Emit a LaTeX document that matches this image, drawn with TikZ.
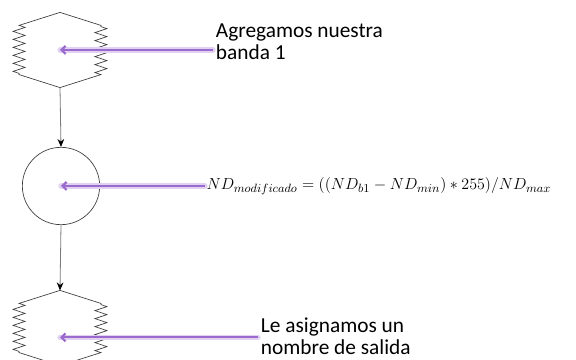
\documentclass[tikz,border=0pt]{standalone}
\usepackage{amsmath}
\usepackage{fontspec}
\setmainfont{Carlito}
\usepackage{tikz}
\usetikzlibrary{arrows.meta,positioning,calc,decorations.pathmorphing}
\definecolor{violeta}{HTML}{9A6ACF}
\definecolor{gristrazo}{HTML}{3C3C3C}
\definecolor{grislinea}{HTML}{7A7A7A}

% outline of a band symbol around a node
\newcommand{\contorno}[1]{%
  \draw[forma] (#1.north) -- ($(#1.north west)+(0,13)$)
    decorate[decoration={zigzag,segment length=6pt,amplitude=4.5pt}] {-- ($(#1.south west)+(0,-13)$)}
    -- (#1.south) -- ($(#1.south east)+(0,-13)$)
    decorate[decoration={zigzag,segment length=6pt,amplitude=4.5pt}] {-- ($(#1.north east)+(0,13)$)}
    -- cycle;}

\begin{document}
\begin{tikzpicture}[x=0.75pt, y=-0.75pt,
    banda/.style={rectangle, draw=none, minimum width=61pt, minimum height=56pt, inner sep=0pt},
    proceso/.style={circle, draw=gristrazo, line width=0.5pt, minimum size=58pt, inner sep=0pt},
    forma/.style={draw=gristrazo, line width=0.5pt},
    nota/.style={font=\fontsize{16}{16.5}\selectfont, align=left, anchor=west, inner sep=2pt},
    enlace/.style={-{Stealth[length=6pt,width=5pt,black]}, grislinea, line width=0.6pt},
    flecha/.style={-{Straight Barb[length=3pt,width=6pt]}, violeta, line width=1.6pt},
    halo/.style={violeta!30, line width=4pt, line cap=round}
]
\useasboundingbox (0,0) rectangle (576,360);

\node[banda] (entrada) at (60,50) {};
\node[proceso] (calculo) at (61,186) {};
\node[banda] (salida) at (60,328) {};
\contorno{entrada}
\contorno{salida}

\draw[enlace] (entrada.south) -- (calculo.north);
\draw[enlace] (calculo.south) -- (salida.north);

\node[nota] (agrega) at (213,42) {Agregamos nuestra\\banda 1};
\node[nota] (asigna) at (258,336) {Le asignamos un\\nombre de salida};
\node[anchor=base west, inner sep=1pt, font=\fontsize{12.85}{15}\selectfont] (formula) at (205,190)
  {$ND_{modificado} = ((ND_{b1} - ND_{min}) * 255)/ND_{max}$};

% purple pointers
\draw[halo] (entrada.center -| agrega.west) -- (entrada.center);
\draw[flecha] (entrada.center -| agrega.west) -- (entrada.center);
\draw[halo] (calculo.center -| formula.west) -- (calculo.center);
\draw[flecha] (calculo.center -| formula.west) -- (calculo.center);
\draw[halo] ([yshift=-7pt]salida.center -| asigna.west) -- ([yshift=-7pt]salida.center);
\draw[flecha] ([yshift=-7pt]salida.center -| asigna.west) -- ([yshift=-7pt]salida.center);
\end{tikzpicture}
\end{document}
